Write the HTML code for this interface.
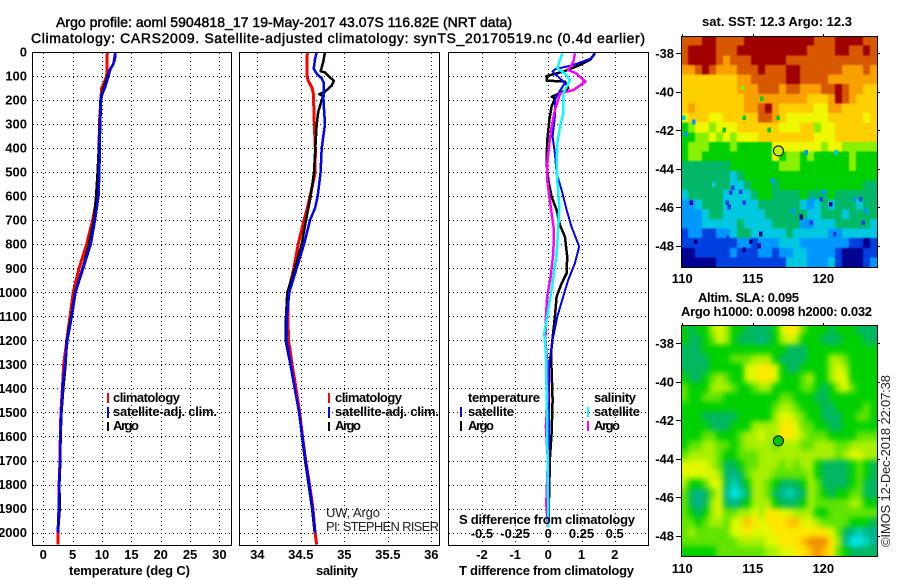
<!DOCTYPE html>
<html lang="en">
<head>
<meta charset="utf-8">
<title>Argo profile 5904818_17</title>
<style>
html,body{margin:0;padding:0;background:#fff;width:900px;height:580px;overflow:hidden}
svg{display:block}
text{font-family:"Liberation Sans",sans-serif;fill:#000}
.t{font-size:14px;stroke:#000;stroke-width:.45px}
.b{font-size:13px;font-weight:700}
.l{font-size:13px;font-weight:700}
.n{font-size:13px;fill:#222}
</style>
</head>
<body>
<svg id="chart" width="900" height="580" viewBox="0 0 900 580" xmlns="http://www.w3.org/2000/svg">
<defs>
<clipPath id="clip-sst"><rect x="681" y="36" width="196" height="231"/></clipPath>
<clipPath id="clip-sla"><rect x="681" y="325" width="196" height="231"/></clipPath>
<filter id="soft-sst" filterUnits="userSpaceOnUse" x="660" y="15" width="240" height="275" color-interpolation-filters="sRGB"><feGaussianBlur stdDeviation="0.9"/></filter>
<filter id="soft-sla" filterUnits="userSpaceOnUse" x="660" y="300" width="240" height="280" color-interpolation-filters="sRGB"><feGaussianBlur stdDeviation="3"/></filter>
</defs>
<rect width="900" height="580" fill="#fff"/>
<text class="t" x="56" y="27" textLength="456">Argo profile: aoml 5904818_17 19-May-2017 43.07S 116.82E (NRT data)</text>
<text class="t" x="31" y="43" textLength="614">Climatology: CARS2009. Satellite-adjusted climatology: synTS_20170519.nc (0.4d earlier)</text>
<g id="grids"></g>
<g id="marks"></g>
<g id="labels"></g>
<g id="maps"></g>
<rect x="32.5" y="52.5" width="199" height="493" fill="none" stroke="#000"/>
<rect x="239.5" y="52.5" width="200" height="493" fill="none" stroke="#000"/>
<rect x="448.5" y="52.5" width="200" height="493" fill="none" stroke="#000"/>
<text class="b" x="69" y="575" textLength="121">temperature (deg C)</text>
<text class="b" x="316" y="575" textLength="42">salinity</text>
<text class="b" x="459" y="575" textLength="175">T difference from climatology</text>
<text class="b" x="459" y="524" textLength="176">S difference from climatology</text>
<g>
<rect x="107" y="393" width="2" height="10" fill="#f00"/>
<rect x="107" y="407" width="2" height="11" fill="#00f"/>
<rect x="107" y="422" width="2" height="9" fill="#000"/>
<text class="l" x="113" y="402" textLength="67">climatology</text>
<text class="l" x="113" y="416" textLength="104">satellite-adj. clim.</text>
<text class="l" x="113" y="430" textLength="26">Argo</text>
</g>
<g>
<rect x="328" y="393" width="2" height="10" fill="#f00"/>
<rect x="328" y="407" width="2" height="11" fill="#00f"/>
<rect x="328" y="422" width="2" height="9" fill="#000"/>
<text class="l" x="335" y="402" textLength="67">climatology</text>
<text class="l" x="335" y="416" textLength="104">satellite-adj. clim.</text>
<text class="l" x="335" y="430" textLength="26">Argo</text>
</g>
<text class="n" x="326" y="517" textLength="54">UW, Argo</text>
<text class="n" x="326" y="531" textLength="113">PI: STEPHEN RISER</text>
<g>
<text class="l" x="468" y="402" textLength="72">temperature</text>
<rect x="460" y="407" width="2" height="10" fill="#00f"/>
<text class="l" x="468" y="416" textLength="46">satellite</text>
<rect x="460" y="421" width="2" height="10" fill="#000"/>
<text class="l" x="468" y="430" textLength="26">Argo</text>
<text class="l" x="594" y="402" textLength="42">salinity</text>
<rect x="587" y="407" width="2" height="10" fill="#0ff"/>
<text class="l" x="594" y="416" textLength="46">satellite</text>
<rect x="587" y="421" width="2" height="10" fill="#f0f"/>
<text class="l" x="594" y="430" textLength="26">Argo</text>
</g>
<text class="b" x="702" y="26" textLength="150">sat. SST: 12.3 Argo: 12.3</text>
<text class="b" x="698" y="302" textLength="101">Altim. SLA: 0.095</text>
<text class="b" x="681" y="316" textLength="191">Argo h1000: 0.0098 h2000: 0.032</text>
<text class="n" transform="translate(890 547) rotate(-90)" x="0" y="0" textLength="172">©IMOS 12-Dec-2018 22:07:38</text>
</svg>
<script>
const depthTicks = [0,100,200,300,400,500,600,700,800,900,1000,1100,1200,1300,1400,1500,1600,1700,1800,1900,2000];
const tempTicks = [0,5,10,15,20,25,30];
const salTicks = [34,34.5,35,35.5,36];
const salTickLabels = ['34','34.5','35','35.5','36'];
const diffTTicks = [-2,-1,0,1,2];
const diffSTicks = [-0.5,-0.25,0,0.25,0.5];
const diffSTickLabels = ['-0.5','-0.25','0','0.25','0.5'];
const lonTicks = [110,115,120];
const latTicks = [-38,-40,-42,-44,-46,-48];

const climDepths = [0,100,120,150,200,300,400,500,600,700,800,900,1000,1100,1200,1300,1400,1500,1600,1700,1800,1900,2000,2050];
const tempClim = [10.9,10.8,10.5,9.95,9.8,9.55,9.5,9.45,9.2,8.4,7.4,6.1,5.1,4.55,4.0,3.47,3.25,3.0,2.9,2.85,2.7,2.65,2.5,2.5];
const tempSatDepths = [0,30,50,75,100,150,175,200,300,400,500,600,700,800,900,1000,1100,1200,1300,1400,1500,1600,1700,1800,1900,2000];
const tempSat = [12.3,12.2,11.9,11.4,11.1,10.5,10.05,9.85,9.7,9.6,9.55,9.4,8.8,8.1,6.8,5.5,4.85,4.1,3.7,3.25,3.05,2.9,2.85,2.7,2.65,2.45];
const tempArgoDepths = [0,50,75,100,150,175,200,300,400,500,600,700,800,900,1000,1100,1200,1300,1400,1500,1600,1700,1800,1900,2000];
const tempArgo = [12.3,11.95,11.3,10.95,10.25,9.95,9.75,9.6,9.45,9.25,9.0,8.6,7.8,6.7,5.4,4.75,4.0,3.8,3.4,3.1,2.95,2.9,2.75,2.8,2.5];

const salClimDepths = [0,100,120,150,175,300,400,500,550,600,650,700,800,900,1000,1100,1200,1300,1400,1500,1600,1700,1800,1900,2000,2050];
const salClim = [34.575,34.57,34.586,34.63,34.645,34.655,34.667,34.665,34.637,34.606,34.575,34.537,34.47,34.42,34.356,34.35,34.36,34.40,34.445,34.487,34.52,34.556,34.60,34.64,34.663,34.683];
const salSatDepths = [0,30,70,90,110,130,200,300,400,500,600,650,700,800,900,1000,1100,1200,1300,1400,1500,1600,1700,1800,1900,2000];
const salSat = [34.683,34.663,34.648,34.683,34.74,34.767,34.76,34.778,34.74,34.728,34.694,34.663,34.606,34.537,34.453,34.368,34.341,34.338,34.384,34.43,34.48,34.518,34.556,34.598,34.636,34.667];
const salArgoDepths = [0,40,80,85,100,120,140,165,175,185,200,250,300,400,500,600,700,800,900,1000,1100,1200,1300,1400,1500,1600,1700,1800,1900,2000];
const salArgo = [34.778,34.759,34.728,34.778,34.816,34.88,34.855,34.778,34.713,34.76,34.74,34.70,34.683,34.667,34.652,34.614,34.56,34.51,34.433,34.345,34.33,34.325,34.38,34.43,34.48,34.515,34.55,34.59,34.63,34.66];

const dtSatDepths = [5,26,54,72,82,103,130,172,200,269,352,422,505,574,657,727,810,879,949,1018,1101,1198,1294,1394,1448,1977];
const dtSat = [1.41,1.31,.75,.2,.13,.3,.5,.3,.2,.2,.13,.2,.25,.4,.55,.7,.93,.8,.6,.45,.27,.13,.03,.02,.02,0];
const dtArgoDepths = [5,33,54,82,100,119,123,151,172,186,193,227,283,366,463,533,602,657,720,768,852,921,963,1018,1101,1253,1448,1586,1686,1977];
const dtArgo = [1.41,1.26,.95,.45,-.05,-.05,.5,.6,.35,.1,.2,.1,.03,-.03,-.05,0,.1,.25,.35,.5,.57,.55,.4,.25,.2,.08,.13,.1,.05,0];
const dsArgoDepths = [5,40,75,89,123,158,172,241,310,380,463,533,602,671,741,838,935,1018,1101,1198,1294,1448,1558,1700,1880,1977];
const dsArgo = [.2,.19,.15,.21,.28,.19,.09,.05,.025,.008,-.008,-.008,.008,.025,.043,.038,.018,-.008,-.018,-.022,-.008,-.005,-.018,-.003,-.015,-.003];
const dsSatDepths = [5,33,68,89,117,144,172,255,310,380,463,533,643,727,838,893,990,1101,1170,1253,1530,1977];
const dsSat = [.108,.088,.068,.125,.163,.138,.113,.113,.088,.068,.063,.068,.083,.075,.063,.05,.025,-.008,-.03,-.018,-.008,0];

const sstGrid = [
[10,10,10,11,11,10,10,10,10,11,11,11,11,11,11,11,11,11,11,10,10,10,11,11,11,11,10,10],
[10,11,11,11,11,10,10,10,11,11,11,11,11,11,11,11,11,11,10,10,10,10,11,11,10,10,11,10],
[10,11,11,11,11,10,9,10,10,10,11,11,11,11,11,10,10,10,10,10,10,10,10,10,10,10,10,10],
[9,9,10,11,10,9,9,9,10,10,10,11,10,10,10,11,11,10,10,10,10,10,10,9,9,9,10,9],
[8,8,8,8,8,8,8,8,9,9,10,10,10,10,10,11,11,10,10,10,10,9,9,9,9,9,9,9],
[8,8,8,8,8,8,8,8,9,9,9,10,10,10,9,10,10,9,9,9,10,10,11,10,9,9,8,8],
[8,8,8,8,8,8,8,8,8,9,9,9,9,9,9,9,9,9,8,8,8,9,11,10,9,8,8,8],
[8,9,8,8,8,8,8,8,8,9,9,10,11,9,8,8,8,8,8,7,7,9,9,8,8,8,8,8],
[7,8,8,8,7,7,8,8,8,8,8,10,10,9,8,7,7,7,7,7,7,8,8,8,8,8,7,8],
[5,6,7,7,6,7,7,7,8,8,8,8,8,8,7,7,7,8,8,6,7,7,8,8,8,8,8,8],
[5,5,6,6,7,6,7,6,7,7,7,8,8,8,8,8,8,8,8,7,7,7,8,8,8,8,8,8],
[5,6,6,6,5,5,5,6,5,5,5,5,5,7,7,7,7,7,7,7,6,7,7,6,6,6,6,6],
[5,6,6,5,5,5,5,5,5,5,5,5,5,7,5,6,6,5,6,5,5,5,5,5,6,5,5,5],
[4,4,4,4,4,4,4,5,5,5,5,5,5,5,6,6,6,5,5,5,5,5,5,5,6,5,5,5],
[4,4,4,4,4,4,4,3,4,5,5,5,5,5,5,5,5,5,5,5,5,5,5,5,5,5,5,5],
[4,4,4,4,4,4,4,3,3,4,5,5,5,4,5,5,5,5,5,5,5,5,5,5,5,5,4,4],
[3,4,4,4,4,4,3,3,3,3,4,5,5,4,4,4,4,5,4,4,4,5,4,4,4,4,4,4],
[2,2,3,4,4,4,3,3,3,3,3,4,4,4,4,4,4,3,2,3,4,3,4,4,4,3,4,4],
[2,2,2,3,4,4,3,3,3,3,3,3,4,4,4,4,4,4,3,3,4,4,4,3,4,4,4,4],
[2,2,2,3,3,3,3,3,4,3,3,3,3,4,4,4,4,2,2,3,3,3,4,4,4,4,4,3],
[1,2,2,1,1,2,2,3,4,4,3,3,3,3,3,4,3,3,3,3,3,2,2,3,3,3,3,3],
[1,1,1,1,1,1,1,1,2,2,1,2,2,2,3,3,3,2,2,2,2,2,2,2,1,1,0,1],
[0,0,1,1,1,1,1,2,1,1,1,2,2,1,2,2,3,3,2,2,2,2,1,0,0,0,1,1],
[0,0,0,0,0,1,1,1,1,1,1,1,1,1,1,3,3,3,2,2,2,3,1,0,0,0,1,2]
];
const sstSpeckLons = [115.63,114.40,110.10,110.81,112.98,116.17,116.81,110.24,114.28,116.41,112.23,113.57,114.16,113.45,110.62,113.17,114.40,113.33,115.58,114.87,115.46,114.40,113.22,110.97,119.98,119.27,119.86,120.52,122.23,122.65,118.44,119.15,120.81,118.79,117.85,123.05,122.82,120.92];
const sstSpeckLats = [-40.36,-41.35,-41.35,-41.57,-41.98,-41.98,-41.35,-42.19,-39.79,-44.60,-44.81,-44.98,-45.19,-45.24,-45.76,-45.76,-45.76,-45.98,-47.39,-47.79,-48.01,-48.20,-47.58,-47.79,-45.19,-45.58,-45.58,-45.84,-45.58,-45.58,-46.50,-46.80,-47.40,-43.16,-46.19,-46.19,-46.80,-43.16];
const sstSpeckLevels = [5,5,3,2,5,5,5,2,6,2,3,1,1,1,0,1,1,1,0,0,0,0,1,0,2,2,1,0,2,1,0,1,1,2,2,2,1,3];
const slaGrid = [
[4,3,4,4,6,7,6,4,4,3,3,3,3,4,7,8,8,5,4,4,4,3,4,4,4,3,3,3],
[4,3,3,4,5,7,6,4,3,3,3,2,3,4,6,7,6,4,4,4,3,3,3,4,4,4,3,3],
[3,3,3,4,4,4,4,4,4,4,4,4,4,4,4,3,3,3,4,4,4,4,4,4,4,4,4,4],
[3,3,3,3,4,4,4,5,5,5,6,6,6,4,3,3,3,3,4,4,4,6,6,5,4,4,4,4],
[3,3,3,3,4,4,4,4,4,7,7,8,8,7,4,3,3,4,4,4,4,6,7,6,4,4,4,4],
[4,3,3,4,5,6,5,4,4,7,7,8,8,7,4,4,4,5,6,4,4,6,7,7,4,4,4,4],
[5,4,4,4,6,6,6,5,4,4,5,6,6,4,4,4,4,5,5,4,3,4,6,7,5,4,4,4],
[5,4,4,5,5,5,4,4,4,4,4,4,4,4,5,5,4,4,4,3,3,4,4,4,4,4,4,4],
[4,4,4,4,4,4,4,4,4,4,4,4,4,5,6,6,5,4,4,4,3,3,4,4,4,4,5,4],
[4,4,4,3,3,3,3,3,4,4,4,4,4,6,7,7,6,5,4,4,3,3,3,4,4,5,5,4],
[4,4,4,4,3,3,3,4,4,4,6,6,6,6,8,8,7,5,5,4,4,3,3,4,4,4,4,4],
[4,4,4,5,5,4,4,4,5,6,6,7,6,6,8,8,7,6,5,5,5,4,4,4,4,5,5,5],
[4,5,5,6,6,5,5,4,5,6,6,6,6,5,6,6,6,5,5,6,6,6,5,5,6,6,6,6],
[5,6,6,6,6,5,4,4,5,5,5,6,6,6,6,6,6,6,6,6,6,6,5,6,7,7,6,6],
[7,7,7,7,6,5,3,3,4,5,5,6,6,6,5,6,5,6,6,4,3,3,3,3,4,5,4,3],
[7,7,7,7,7,6,3,2,3,5,6,6,6,5,5,5,5,5,6,4,3,3,3,3,4,5,4,3],
[6,4,4,5,7,7,3,1,2,4,6,6,5,4,3,3,3,4,6,5,3,3,3,3,4,5,3,3],
[5,3,2,3,5,7,2,0,1,3,6,6,5,3,2,1,2,3,6,5,4,3,4,4,5,5,3,3],
[5,3,2,3,6,7,3,2,3,4,6,6,6,4,3,3,3,4,6,5,5,5,5,5,6,6,4,4],
[5,4,3,4,6,7,5,5,6,6,7,6,8,8,7,7,6,6,6,4,4,5,5,5,5,5,5,5],
[5,5,4,5,6,6,5,7,7,9,8,7,8,8,8,9,9,7,7,6,5,5,5,5,4,4,4,3],
[5,6,5,5,5,5,5,7,7,8,7,7,7,8,8,8,8,8,8,8,8,7,5,3,2,1,2,2],
[5,5,5,5,5,5,5,5,6,6,6,6,7,7,8,8,8,9,10,10,10,8,6,2,0,0,1,2],
[4,4,4,4,4,5,5,5,5,5,5,5,6,6,7,7,8,8,9,10,9,8,5,4,3,3,3,3]
];
const sstColors = ['#000090','#0040e0','#0098ff','#00c8e0','#00b868','#00d000','#88f000','#f0f800','#ffd000','#f8a000','#d85800','#a00000'];
const slaColors = ['#00e8f0','#00d8b8','#00b490','#00b860','#00d000','#60e400','#a8f000','#e0f800','#ffe800','#ffc000','#f09000'];
const argoLon = 116.82;
const argoLat = -43.07;

const NS = 'http://www.w3.org/2000/svg';
const depthY = d => 52 + d * 0.2403;
const tempX = v => 43.3 + v * 5.87;
const salX = v => 257.3 + (v - 34) * 87;
const diffTX = v => 548.3 + v * 33.2;
const diffSX = v => 548.3 + v * 132.8;
const lonX = v => 682.3 + (v - 110) * 14.1;
const latY1 = v => 53.3 + (-38 - v) * 19.25;
const latY2 = v => 343.3 + (-38 - v) * 19.25;

function make(tag, parent, attrs) {
  const el = document.createElementNS(NS, tag);
  for (const k in attrs) el.setAttribute(k, attrs[k]);
  parent.appendChild(el);
  return el;
}
const gridG = document.getElementById('grids');
const marksG = document.getElementById('marks');
const labelsG = document.getElementById('labels');
const mapsG = document.getElementById('maps');

function hGrid(x1, x2) {
  depthTicks.slice(1).forEach(d => {
    const y = Math.round(depthY(d)) + 0.5;
    const el = make('line', gridG, {x1: x1, x2: x2, y1: y, y2: y, stroke: '#000', 'stroke-dasharray': '1 3', 'shape-rendering': 'crispEdges'});
    
    
  });
}
function vGrid(ticks, scale) {
  ticks.forEach(t => {
    const x = Math.round(scale(t)) + 0.5;
    const el = make('line', gridG, {x1: x, x2: x, y1: 53, y2: 545, stroke: '#000', 'stroke-dasharray': '1 3', 'shape-rendering': 'crispEdges'});
    
    
  });
}
hGrid(33, 231); hGrid(240, 439); hGrid(449, 648);
vGrid(tempTicks, tempX); vGrid(salTicks, salX); vGrid(diffTTicks, diffTX);

function label(x, y, str, anchor, name) {
  const el = make('text', labelsG, {x: x, y: y, class: 'b', 'text-anchor': anchor});
  el.textContent = str;
  
  
}
depthTicks.forEach(d => label(27, depthY(d) + 4.5, String(d), 'end', 'depth-tick-label'));
tempTicks.forEach(t => label(tempX(t), 559, String(t), 'middle', 'temperature-tick-label'));
salTicks.forEach((t, i) => label(salX(t), 559, salTickLabels[i], 'middle', 'salinity-tick-label'));
diffTTicks.forEach(t => label(diffTX(t), 559, String(t), 'middle', 't-difference-tick-label'));
diffSTicks.forEach((t, i) => label(diffSX(t), 538, diffSTickLabels[i], 'middle', 's-difference-tick-label'));

function series(xs, ds, scale, color, w, name) {
  const pts = xs.map((v, i) => scale(v).toFixed(1) + ',' + depthY(ds[i]).toFixed(1)).join(' ');
  const el = make('polyline', marksG, {points: pts, fill: 'none', stroke: color, 'stroke-width': w, 'stroke-linejoin': 'round', 'shape-rendering': 'crispEdges'});
  
  
}
series(tempClim, climDepths, tempX, '#f00', 3, 'temperature-climatology-line');
series(tempArgo, tempArgoDepths, tempX, '#000', 2.5, 'temperature-argo-line');
series(tempSat, tempSatDepths, tempX, '#00f', 2.5, 'temperature-satellite-line');
series(salClim, salClimDepths, salX, '#f00', 3, 'salinity-climatology-line');
series(salArgo, salArgoDepths, salX, '#000', 2.5, 'salinity-argo-line');
series(salSat, salSatDepths, salX, '#00f', 2.5, 'salinity-satellite-line');
series(dtArgo, dtArgoDepths, diffTX, '#000', 2.5, 't-difference-argo-line');
series(dtSat, dtSatDepths, diffTX, '#00f', 2, 't-difference-satellite-line');
series(dsArgo, dsArgoDepths, diffSX, '#f0f', 2.5, 's-difference-argo-line');
series(dsSat, dsSatDepths, diffSX, '#0ff', 2.5, 's-difference-satellite-line');

function drawMap(grid, colors, latY, top, bottom, labelBase, prefix, dotFill, clipId, filterId) {
  const left = 681, right = 877;
  const rows = grid.length, cols = grid[0].length;
  const lonMin = 110 + (left - lonX(110)) / 14.1;
  const lonStep = (right - left) / 14.1 / cols;
  const latTop = -38 - (top - latY(-38)) / 19.25;
  const latStep = (bottom - top) / 19.25 / rows;
  const clipG = make('g', mapsG, {'clip-path': 'url(#' + clipId + ')'});
  
  
  const g = make('g', clipG, {'shape-rendering': 'crispEdges', filter: 'url(#' + filterId + ')'});
  
  
  const pad = 12;
  grid.forEach((row, r) => row.forEach((v, c) => {
    let x0 = lonX(lonMin + c * lonStep), x1 = lonX(lonMin + (c + 1) * lonStep);
    let y0 = latY(latTop - r * latStep), y1 = latY(latTop - (r + 1) * latStep);
    if (c === 0) x0 -= pad;
    if (c === cols - 1) x1 += pad;
    if (r === 0) y0 -= pad;
    if (r === rows - 1) y1 += pad;
    const el = make('rect', g, {x: x0.toFixed(2), y: y0.toFixed(2), width: (x1 - x0 + 0.4).toFixed(2), height: (y1 - y0 + 0.4).toFixed(2), fill: colors[v]});
    
    
  }));
  return clipG;
}
function decorateMap(latY, top, bottom, labelBase, prefix, dotFill) {
  const left = 681, right = 877;
  const frame = make('rect', mapsG, {x: left + 0.5, y: top + 0.5, width: right - left, height: bottom - top, fill: 'none', stroke: '#000', 'shape-rendering': 'crispEdges'});
  
  
  lonTicks.forEach(t => {
    const x = Math.round(lonX(t)) + 0.5;
    const tk = make('line', mapsG, {x1: x, x2: x, y1: top - 2, y2: top, stroke: '#000', 'shape-rendering': 'crispEdges'});
    
    
    const el = make('text', mapsG, {x: lonX(t), y: labelBase, class: 'b', 'text-anchor': 'middle'});
    el.textContent = String(t);
    
    
  });
  latTicks.forEach(t => {
    const y = Math.round(latY(t)) + 0.5;
    const tl = make('line', mapsG, {x1: left - 5, x2: left, y1: y, y2: y, stroke: '#000', 'shape-rendering': 'crispEdges'});
    
    
    const tr = make('line', mapsG, {x1: right, x2: right + 3, y1: y, y2: y, stroke: '#000', 'shape-rendering': 'crispEdges'});
    
    
    const el = make('text', mapsG, {x: 674, y: latY(t) + 4.5, class: 'b', 'text-anchor': 'end'});
    el.textContent = String(t);
    
    
  });
  const dot = make('circle', mapsG, {cx: lonX(argoLon), cy: latY(argoLat), r: 5, fill: dotFill, stroke: '#000', 'stroke-width': 1});
  
  
}
const sstArea = drawMap(sstGrid, sstColors, latY1, 36, 267, 283, 'sst-map', '#c8f000', 'clip-sst', 'soft-sst');
sstSpeckLons.forEach((lon, i) => {
  const el = make('rect', sstArea, {x: (lonX(lon) - 1.75).toFixed(2), y: (latY1(sstSpeckLats[i]) - 2.4).toFixed(2), width: 3.5, height: 4.8, fill: sstColors[sstSpeckLevels[i]], 'shape-rendering': 'crispEdges'});
  
  
});
decorateMap(latY1, 36, 267, 283, 'sst-map', '#c8f000');
drawMap(slaGrid, slaColors, latY2, 325, 556, 573, 'sla-map', '#00c800', 'clip-sla', 'soft-sla');
decorateMap(latY2, 325, 556, 573, 'sla-map', '#00c800');
</script>
</body>
</html>
